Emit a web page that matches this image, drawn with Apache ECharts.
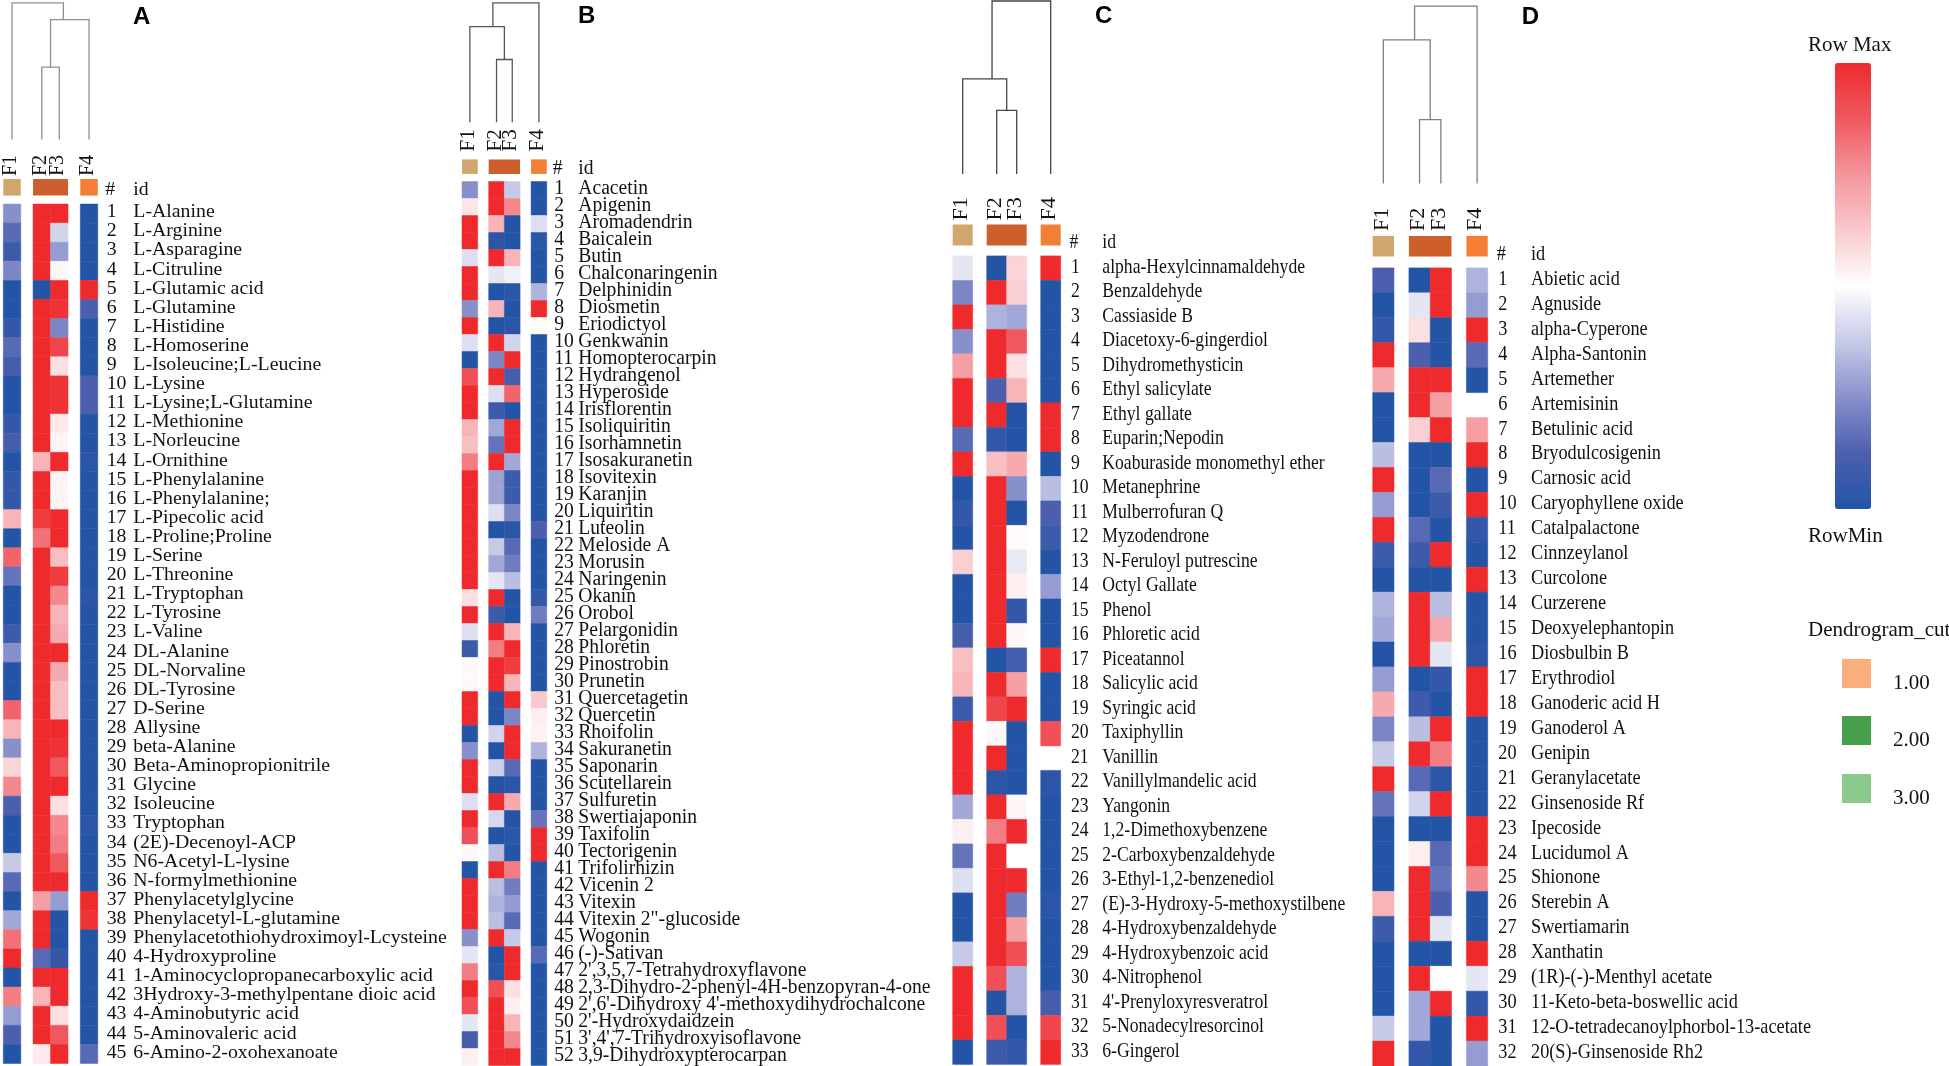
<!DOCTYPE html>
<html><head><meta charset="utf-8">
<script src="https://cdn.jsdelivr.net/npm/echarts@6/dist/echarts.min.js"></script>
<style>html,body{margin:0;padding:0;background:#fff}#c{width:1949px;height:1066px}</style>
</head><body><div id="c"></div>
<script>
// ---------------- DATA ----------------
const columns = ['F1', 'F2', 'F3', 'F4'];
const annotSpans = [[0, 0], [1, 2], [3, 3]];        // column groups in the annotation bar
const cutLabels = ['1.00', '2.00', '3.00'];

const namesA = ['L-Alanine','L-Arginine','L-Asparagine','L-Citruline','L-Glutamic acid','L-Glutamine','L-Histidine','L-Homoserine','L-Isoleucine;L-Leucine','L-Lysine','L-Lysine;L-Glutamine','L-Methionine','L-Norleucine','L-Ornithine','L-Phenylalanine','L-Phenylalanine;','L-Pipecolic acid','L-Proline;Proline','L-Serine','L-Threonine','L-Tryptophan','L-Tyrosine','L-Valine','DL-Alanine','DL-Norvaline','DL-Tyrosine','D-Serine','Allysine','beta-Alanine','Beta-Aminopropionitrile','Glycine','Isoleucine','Tryptophan','(2E)-Decenoyl-ACP','N6-Acetyl-L-lysine','N-formylmethionine','Phenylacetylglycine','Phenylacetyl-L-glutamine','Phenylacetothiohydroximoyl-Lcysteine','4-Hydroxyproline','1-Aminocyclopropanecarboxylic acid','3Hydroxy-3-methylpentane dioic acid','4-Aminobutyric acid','5-Aminovaleric acid','6-Amino-2-oxohexanoate'];
const valuesA = [
[-0.5,1,1,-1],[-0.7,1,-0.2,-1],[-0.85,1,-0.45,-1],[-0.55,1,0.03,-1],[-1,-1,1,1],
[-1,1,0.95,-0.75],[-0.9,1,-0.55,-1],[-0.7,1,0.85,-1],[-0.8,1,0.15,-1],[-1,1,0.95,-0.75],
[-1,1,0.95,-0.75],[-0.9,1,0.1,-1],[-0.8,1,0.05,-1],[-1,0.35,1,-0.95],[-0.9,1,0.05,-1],
[-0.9,1,0.05,-1],[0.35,0.9,1,-1],[-1,0.65,1,-1],[0.7,1,0.3,-1],[-0.65,1,0.9,-1],
[-1,1,0.55,-0.95],[-1,1,0.35,-1],[-0.85,1,0.4,-1],[-0.5,1,1,-1],[-1,1,0.4,-1],
[-1,1,0.3,-1],[0.7,1,0.3,-1],[0.35,1,1,-1],[-0.5,1,0.95,-1],[0.2,1,0.75,-1],
[0.55,1,1,-1],[-0.75,1,0.15,-1],[-1,1,0.55,-0.95],[-1,1,0.6,-1],[-0.25,1,0.75,-1],
[-0.7,1,1,-1],[-1,0.45,-0.45,1],[-0.4,1,-1,0.95],[0.65,1,-1,-1],[1,-0.7,-0.9,-1],
[-1,1,1,-1],[0.6,0.35,1,-1],[-0.45,1,0.15,-1],[-0.75,1,0.75,-1],[-1,0.1,1,-0.7]];
const dendroA = [[1,2,0.53],[4,3,0.877],[0,5,1.0]];   // [childA, childB, merge height]

const namesB = ['Acacetin','Apigenin','Aromadendrin','Baicalein','Butin','Chalconaringenin','Delphinidin','Diosmetin','Eriodictyol','Genkwanin','Homopterocarpin','Hydrangenol','Hyperoside','Irisflorentin','Isoliquiritin','Isorhamnetin','Isosakuranetin','Isovitexin','Karanjin','Liquiritin','Luteolin','Meloside A','Morusin','Naringenin','Okanin','Orobol','Pelargonidin','Phloretin','Pinostrobin','Prunetin','Quercetagetin','Quercetin','Rhoifolin','Sakuranetin','Saponarin','Scutellarein','Sulfuretin','Swertiajaponin','Taxifolin','Tectorigenin','Trifolirhizin','Vicenin 2','Vitexin','Vitexin 2"-glucoside','Wogonin','(-)-Sativan',"2',3,5,7-Tetrahydroxyflavone",'2,3-Dihydro-2-phenyl-4H-benzopyran-4-one',"2',6'-Dihydroxy 4'-methoxydihydrochalcone","2'-Hydroxydaidzein","3',4',7-Trihydroxyisoflavone",'3,9-Dihydroxypterocarpan'];
const valuesB = [
[-0.5,1,-0.25,-1],[0.12,1,0.55,-1],[1,0.35,-1,-0.15],[1,-0.95,-1,-0.95],[-0.15,1,0.35,-1],
[1,-0.12,-0.07,-1],[1,-1,-0.95,-0.35],[-0.5,0.35,-1,1],[1,-1,-0.95,0.02],[-0.15,1,-0.2,-1],
[-1,-0.55,1,-1],[0.8,1,-0.8,-1],[1,-0.15,0.7,-1],[1,-0.85,-1,-1],[0.35,-0.4,1,-1],
[0.3,-0.65,1,-1],[0.6,1,-0.4,-1],[1,-0.42,-0.85,-1],[1,-0.42,-0.85,-1],[1,-0.15,-0.55,-1],
[1,-1,-0.95,-0.75],[1,-0.25,-0.7,-1],[1,-0.4,-0.6,-1],[1,-0.12,-0.3,-1],[0.15,1,-1,-0.9],
[1,-0.85,-1,-0.6],[-0.15,1,0.35,-1],[-0.85,0.6,1,-1],[0.03,1,0.9,-1],[0.03,1,0.35,-1],
[1,-1,1,0.25],[1,-1,-0.55,0.08],[-1,-0.2,1,0.06],[-0.5,-1,1,-0.35],[1,-0.22,-0.7,-1],
[1,-1,-0.95,-1],[-0.15,1,0.4,-1],[1,-0.18,-1,-0.65],[0.8,-1,-0.95,1],[0.03,-0.3,-1,1],
[-1,1,0.6,-1],[1,-0.3,-0.6,-1],[1,-0.35,-0.45,-1],[1,-0.3,-0.7,-1],[-0.5,1,-0.25,-1],
[-0.12,-1,1,-0.7],[0.6,-0.95,1,-1],[1,0.8,0.15,-1],[0.8,1,0.08,-1],[-0.12,1,0.35,-1],
[-0.8,1,0.55,-1],[0.08,1,1,-1]];
const dendroB = [[1,2,0.525],[0,4,0.80],[5,3,1.0]];

const namesC = ['alpha-Hexylcinnamaldehyde','Benzaldehyde','Cassiaside B','Diacetoxy-6-gingerdiol','Dihydromethysticin','Ethyl salicylate','Ethyl gallate','Euparin;Nepodin','Koaburaside monomethyl ether','Metanephrine','Mulberrofuran Q','Myzodendrone','N-Feruloyl putrescine','Octyl Gallate','Phenol','Phloretic acid','Piceatannol','Salicylic acid','Syringic acid','Taxiphyllin','Vanillin','Vanillylmandelic acid','Yangonin','1,2-Dimethoxybenzene','2-Carboxybenzaldehyde','3-Ethyl-1,2-benzenediol','(E)-3-Hydroxy-5-methoxystilbene','4-Hydroxybenzaldehyde','4-Hydroxybenzoic acid','4-Nitrophenol',"4'-Prenyloxyresveratrol",'5-Nonadecylresorcinol','6-Gingerol'];
const valuesC = [
[-0.12,-1,0.2,1],[-0.55,1,0.22,-1],[1,-0.35,-0.4,-1],[-0.5,1,0.75,-1],[0.45,1,0.15,-1],
[1,-0.75,0.35,-1],[1,1,-1,1],[-0.7,-0.9,-1,1],[1,0.3,0.4,-1],[-1,1,-0.5,-0.3],
[-0.9,1,-1,-0.75],[-1,1,0.02,-0.85],[0.22,1,-0.1,-1],[-1,1,0.08,-0.45],[-1,1,-0.9,-1],
[-0.8,1,0.03,-1],[0.3,-1,-0.8,1],[0.35,1,0.45,-1],[-0.85,0.85,1,-1],[1,0.03,-1,0.8],
[1,1,-1,null],[1,-0.95,-1,-0.95],[-0.4,1,0.04,-1],[0.08,0.6,1,-1],[-0.65,1,0,-1],
[-0.15,1,1,-1],[-1,1,-0.6,-0.95],[-1,1,0.45,-1],[-0.25,1,0.8,-1],[1,0.8,-0.35,-1],
[1,-1,-0.35,-0.8],[1,0.8,-1,0.85],[-1,-0.85,-0.9,1]];
const dendroC = [[1,2,0.367],[0,4,0.55],[5,3,1.0]];

const namesD = ['Abietic acid','Agnuside','alpha-Cyperone','Alpha-Santonin','Artemether','Artemisinin','Betulinic acid','Bryodulcosigenin','Carnosic acid','Caryophyllene oxide','Catalpalactone','Cinnzeylanol','Curcolone','Curzerene','Deoxyelephantopin','Diosbulbin B','Erythrodiol','Ganoderic acid H','Ganoderol A','Genipin','Geranylacetate','Ginsenoside Rf','Ipecoside','Lucidumol A','Shionone','Sterebin A','Swertiamarin','Xanthatin','(1R)-(-)-Menthyl acetate','11-Keto-beta-boswellic acid','12-O-tetradecanoylphorbol-13-acetate','20(S)-Ginsenoside Rh2'];
const valuesD = [
[-0.75,-1,1,-0.35],[-1,-0.12,1,-0.45],[-0.9,0.15,-1,1],[1,-0.75,-1,-0.7],[0.4,1,1,-1],
[-1,1,0.45,null],[-1,0.22,1,0.45],[-0.3,-1,-1,1],[1,-1,-0.7,-1],[-0.45,-1,-0.85,1],
[1,-0.7,-1,-0.9],[-0.85,-0.85,1,-1],[-1,-1,-1,1],[-0.35,1,-0.3,-1],[-0.4,1,0.4,-1],
[-1,1,-0.12,-0.95],[-0.45,-1,-0.9,1],[0.4,-0.85,-1,1],[-0.55,-0.3,1,-1],[-0.25,1,0.6,-1],
[1,-0.7,-0.95,-1],[-0.65,-0.2,1,-1],[-1,-1,-1,1],[-1,0.08,-0.7,1],[-1,1,-0.65,0.55],
[0.35,1,-0.75,-1],[-0.85,1,-0.12,-1],[-1,-1,-1,1],[-1,1,0,-0.12],[-1,-0.4,1,-0.9],
[-0.25,-0.4,-1,1],[1,-0.9,-1,-0.45]];
const dendroD = [[1,2,0.36],[0,4,0.81],[5,3,1.0]];

// ---------------- LAYOUT / STYLE ----------------
const COL_LEFT = [0, 1.7, 2.7, 4.4];   // column left edges (column-width units)
const X_SPAN = 5.4;
const ANNOT_COLORS = ['#D1A66C', '#CC5F2B', '#F47E33'];
const CUT_COLORS = ['#F9AE7C', '#46A04B', '#8CC98C'];
const HEAT_COLORS = ['#2354A5','#4C5FAF','#8890CB','#C6CAE7','#FFFFFF','#F9C9CD','#F4959B','#F05860','#EE2A2D'];
const SERIF = '"Liberation Serif", "Times New Roman", serif';

const panels = [
 {letter:'A', names:namesA, values:valuesA, dendro:dendroA,
  L:{left:3.3, colW:17.5, top:204, rowH:19.1, dTop:2.8, dBottom:139.5, barTop:179, barBottom:195.6, labelGap:3,
     numX:106.7, nameX:133.3, hdrY:190, letterX:133, letterY:17.2, font:18, sx:1.1, colFont:20, line:'#8f8f8f'}},
 {letter:'B', names:namesB, values:valuesB, dendro:dendroB,
  L:{left:462, colW:15.7, top:181.5, rowH:17.0, dTop:2.8, dBottom:122.2, barTop:159.4, barBottom:173.9, labelGap:8,
     numX:554.3, nameX:578.3, hdrY:169, letterX:578, letterY:16.4, font:20, sx:0.98, colFont:21, line:'#555555'}},
 {letter:'C', names:namesC, values:valuesC, dendro:dendroC,
  L:{left:952.7, colW:20, top:255.9, rowH:24.5, dTop:1, dBottom:173.9, barTop:224.5, barBottom:245.5, labelGap:4,
     numX:1071, nameX:1102.3, hdrY:242.5, letterX:1095, letterY:16.4, font:21, sx:0.84, colFont:22, line:'#444444'}},
 {letter:'D', names:namesD, values:valuesD, dendro:dendroD,
  L:{left:1372.7, colW:21.3, top:267.9, rowH:24.94, dTop:6.2, dBottom:183.5, barTop:235.9, barBottom:256.5, labelGap:5,
     numX:1498.3, nameX:1531, hdrY:254.5, letterX:1521.7, letterY:17.2, font:21, sx:0.87, colFont:22, line:'#808080'}}
];

function tstyle(text, font, align, vAlign, fill) {
  return {text: text, font: font, fill: fill || '#111', align: align, verticalAlign: vAlign,
          textAlign: align, textVerticalAlign: vAlign};
}

const grid = [], xAxis = [], yAxis = [], series = [], graphic = [];
const heatIdx = [];

panels.forEach(function (p) {
  const L = p.L, n = p.names.length, w = X_SPAN * L.colW;
  const font = L.font + 'px ' + SERIF;

  // ---- heatmap grid
  const gH = grid.length;
  grid.push({left: L.left, top: L.top, width: w, height: n * L.rowH});
  xAxis.push({type: 'value', gridIndex: gH, min: 0, max: X_SPAN, show: false});
  yAxis.push({type: 'value', gridIndex: gH, min: 0, max: n, inverse: true, show: false});
  const heat = [];
  p.values.forEach(function (row, r) { row.forEach(function (v, c) { heat.push([c, r, v]); }); });
  heatIdx.push(series.length);
  series.push({
    type: 'custom', xAxisIndex: gH, yAxisIndex: gH, data: heat, silent: true,
    encode: {x: 0, y: 1},
    renderItem: function (params, api) {
      const c = api.value(0), r = api.value(1), v = api.value(2);
      if (v === null || isNaN(v)) return null;
      const p0 = api.coord([COL_LEFT[c], r]);
      const p1 = api.coord([COL_LEFT[c] + 1, r + 1]);
      const col = api.visual('color');
      return {type: 'rect', shape: {x: p0[0], y: p0[1], width: p1[0] - p0[0], height: p1[1] - p0[1]},
              style: {fill: col, stroke: col, lineWidth: 0.5}};
    }
  });
  // ---- row labels (number + id)
  series.push({
    type: 'custom', xAxisIndex: gH, yAxisIndex: gH, silent: true,
    data: p.names.map(function (nm, r) { return [0, r]; }),
    encode: {x: 0, y: 1},
    renderItem: function (params, api) {
      const r = api.value(1);
      const y = api.coord([0, r + 0.5])[1] - 1;
      return {type: 'group', children: [
        {type: 'text', x: L.numX, y: y, scaleX: L.sx, style: tstyle(String(r + 1), font, 'left', 'middle')},
        {type: 'text', x: L.nameX, y: y, scaleX: L.sx, style: tstyle(p.names[params.dataIndex], font, 'left', 'middle')}
      ]};
    }
  });

  // ---- dendrogram grid
  const gD = grid.length;
  grid.push({left: L.left, top: L.dTop, width: w, height: L.dBottom - L.dTop});
  xAxis.push({type: 'value', gridIndex: gD, min: 0, max: X_SPAN, show: false});
  yAxis.push({type: 'value', gridIndex: gD, min: 0, max: 1, show: false});
  const nodeX = [0, 1, 2, 3].map(function (c) { return COL_LEFT[c] + 0.5; });
  const nodeH = [0, 0, 0, 0];
  const nodeLeaves = [[0], [1], [2], [3]];
  p.dendro.forEach(function (m) {
    const lv = nodeLeaves[m[0]].concat(nodeLeaves[m[1]]);
    nodeLeaves.push(lv);
    nodeX.push(lv.reduce(function (s, c) { return s + COL_LEFT[c] + 0.5; }, 0) / lv.length);
    nodeH.push(m[2]);
  });
  series.push({
    type: 'custom', xAxisIndex: gD, yAxisIndex: gD, silent: true, data: p.dendro,
    encode: {x: 0, y: 2},
    renderItem: function (params, api) {
      const a = api.value(0), b = api.value(1), h = api.value(2);
      const pts = [[nodeX[a], nodeH[a]], [nodeX[a], h], [nodeX[b], h], [nodeX[b], nodeH[b]]].map(function (q) { return api.coord(q); });
      return {type: 'polyline', shape: {points: pts}, style: {stroke: L.line, lineWidth: 1.3, fill: null}};
    }
  });

  // ---- annotation bar + column labels
  const gB = grid.length;
  grid.push({left: L.left, top: L.barTop, width: w, height: L.barBottom - L.barTop});
  xAxis.push({type: 'value', gridIndex: gB, min: 0, max: X_SPAN, show: false});
  yAxis.push({type: 'value', gridIndex: gB, min: 0, max: 1, show: false});
  series.push({
    type: 'custom', xAxisIndex: gB, yAxisIndex: gB, silent: true,
    data: annotSpans.map(function (s, i) { return [s[0], s[1], i]; }),
    encode: {x: [0, 1]},
    renderItem: function (params, api) {
      const s = api.value(0), e = api.value(1), g = api.value(2);
      const p0 = api.coord([COL_LEFT[s], 1]), p1 = api.coord([COL_LEFT[e] + 1, 0]);
      return {type: 'rect', shape: {x: p0[0], y: p0[1], width: p1[0] - p0[0], height: p1[1] - p0[1]},
              style: {fill: ANNOT_COLORS[g]}};
    }
  });
  series.push({
    type: 'custom', xAxisIndex: gB, yAxisIndex: gB, silent: true,
    data: columns.map(function (c, i) { return [i]; }),
    encode: {x: 0},
    renderItem: function (params, api) {
      const i = api.value(0);
      const pt = api.coord([COL_LEFT[i] + 0.5, 1]);
      return {type: 'text', x: pt[0] - 1.5, y: pt[1] - L.labelGap, rotation: Math.PI / 2,
              style: tstyle(columns[i], L.colFont + 'px ' + SERIF, 'left', 'middle')};
    }
  });

  // ---- header and panel letter
  graphic.push({type: 'text', x: L.numX - 1.5, y: L.hdrY, scaleX: L.sx, silent: true, style: tstyle('#', font, 'left', 'middle')});
  graphic.push({type: 'text', x: L.nameX, y: L.hdrY, scaleX: L.sx, silent: true, style: tstyle('id', font, 'left', 'middle')});
  graphic.push({type: 'text', x: L.letterX, y: L.letterY, silent: true,
                style: tstyle(p.letter, 'bold 24px "Liberation Sans", Arial, sans-serif', 'left', 'middle', '#000')});
});

// ---- legends
const legFont = '21px ' + SERIF;
graphic.push({type: 'text', x: 1808, y: 45, silent: true, style: tstyle('Row Max', legFont, 'left', 'middle')});
graphic.push({type: 'text', x: 1808, y: 536, silent: true, style: tstyle('RowMin', legFont, 'left', 'middle')});
graphic.push({type: 'text', x: 1808, y: 630, silent: true, style: tstyle('Dendrogram_cut', legFont, 'left', 'middle')});
const swTop = [659, 716, 774];
cutLabels.forEach(function (lab, i) {
  graphic.push({type: 'rect', x: 1842, y: swTop[i], silent: true, shape: {x: 0, y: 0, width: 29, height: 29}, style: {fill: CUT_COLORS[i]}});
  graphic.push({type: 'text', x: 1893, y: swTop[i] + 24, silent: true, style: tstyle(lab, legFont, 'left', 'middle')});
});

const option = {
  backgroundColor: '#ffffff',
  animation: false,
  grid: grid, xAxis: xAxis, yAxis: yAxis, series: series,
  visualMap: {
    type: 'continuous', min: -1, max: 1, dimension: 2, seriesIndex: heatIdx,
    inRange: {color: HEAT_COLORS}, orient: 'vertical', left: 1835, top: 63,
    itemWidth: 36, itemHeight: 446, calculable: false, padding: 0, hoverLink: false
  },
  graphic: graphic
};
const chart = echarts.init(document.getElementById('c'), null, {renderer: 'canvas'});
chart.setOption(option);
</script>
</body></html>
